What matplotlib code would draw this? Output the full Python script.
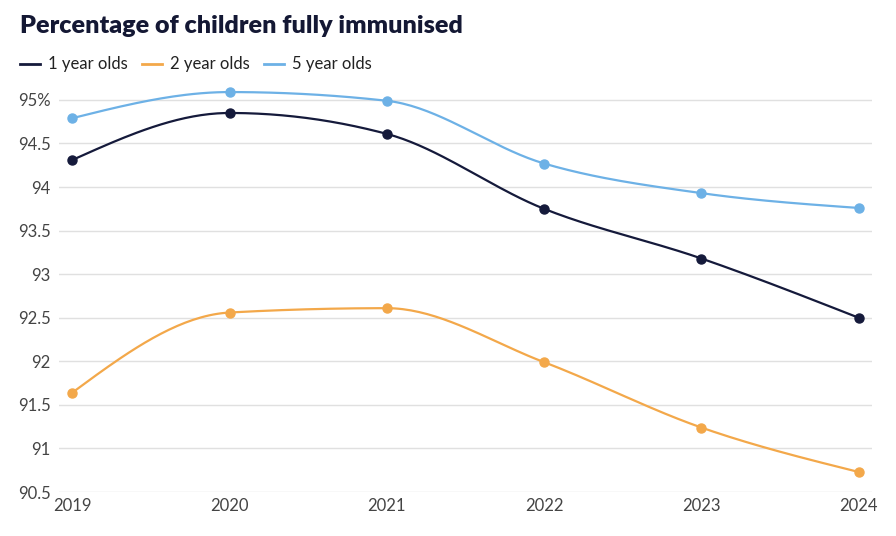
#!/usr/bin/env python3

import numpy as np
import matplotlib.pyplot as plt


YEARS = [2019, 2020, 2021, 2022, 2023, 2024]

ONE_YEAR = [94.31, 94.85, 94.61, 93.75, 93.18, 92.50]
TWO_YEAR = [91.64, 92.56, 92.61, 91.99, 91.24, 90.73]
FIVE_YEAR = [94.79, 95.09, 94.99, 94.27, 93.93, 93.76]

SERIES = [
    ("1 year olds", ONE_YEAR, "#151a3b"),
    ("2 year olds", TWO_YEAR, "#f3a84a"),
    ("5 year olds", FIVE_YEAR, "#6db1e6"),
]

Y_TICKS = [90.5, 91, 91.5, 92, 92.5, 93, 93.5, 94, 94.5, 95]
Y_LABELS = ["90.5", "91", "91.5", "92", "92.5", "93", "93.5", "94", "94.5", "95%"]

TITLE = "Percentage of children fully immunised"


def monotone_curve(xs, ys, steps=40):
    # monotone cubic (same rule as d3.curveMonotoneX), drawn as Bezier pieces
    x = np.asarray(xs, dtype=float)
    y = np.asarray(ys, dtype=float)
    n = len(x)
    h = np.diff(x)
    s = np.diff(y) / h
    t = np.zeros(n)
    for i in range(1, n - 1):
        p = (s[i - 1] * h[i] + s[i] * h[i - 1]) / (h[i - 1] + h[i])
        t[i] = (np.sign(s[i - 1]) + np.sign(s[i])) * min(abs(s[i - 1]), abs(s[i]), 0.5 * abs(p))
    t[0] = (3 * s[0] - t[1]) / 2
    t[-1] = (3 * s[-1] - t[-2]) / 2

    out_x, out_y = [], []
    u = np.linspace(0, 1, steps)
    for i in range(n - 1):
        dx = h[i] / 3
        p0 = (x[i], y[i])
        p1 = (x[i] + dx, y[i] + dx * t[i])
        p2 = (x[i + 1] - dx, y[i + 1] - dx * t[i + 1])
        p3 = (x[i + 1], y[i + 1])
        bx = (1 - u) ** 3 * p0[0] + 3 * (1 - u) ** 2 * u * p1[0] + 3 * (1 - u) * u ** 2 * p2[0] + u ** 3 * p3[0]
        by = (1 - u) ** 3 * p0[1] + 3 * (1 - u) ** 2 * u * p1[1] + 3 * (1 - u) * u ** 2 * p2[1] + u ** 3 * p3[1]
        out_x.extend(bx)
        out_y.extend(by)
    return out_x, out_y


def main():
    plt.rcParams["font.family"] = ["Lato", "DejaVu Sans"]

    W, H = 896, 536
    fig = plt.figure(figsize=(W / 100, H / 100), dpi=100)
    ax = fig.add_axes([0.066, 0.082, 0.907, 0.756])

    for label, values, color in SERIES:
        cx, cy = monotone_curve(YEARS, values)
        ax.plot(cx, cy, color=color, linewidth=1.6, label=label, clip_on=False, zorder=3)
        ax.plot(YEARS, values, "o", color=color, markersize=6.5, clip_on=False, zorder=4)

    ax.set_xlim(2018.917, 2024.083)
    ax.set_ylim(90.5, 95.15)
    ax.set_xticks(YEARS)
    ax.set_xticklabels([str(y) for y in YEARS])
    ax.set_yticks(Y_TICKS)
    ax.set_yticklabels(Y_LABELS)

    ax.grid(axis="y", color="#e0e0e0", linewidth=1)
    ax.set_axisbelow(True)
    for sp in ax.spines.values():
        sp.set_visible(False)
    ax.tick_params(axis="both", length=0, labelsize=12, colors="#444444")
    ax.tick_params(axis="y", pad=6)
    ax.tick_params(axis="x", pad=4)

    fig.text(20 / W, 1 - 26 / H, TITLE, fontsize=18.1, fontweight="heavy", color="#141834",
             ha="left", va="center")

    # legend drawn by hand so the swatches line up with the reference
    legend_y = 1 - 64 / H
    for i, (label, _, color) in enumerate(SERIES):
        x0 = (20 + 122 * i) / W
        fig.add_artist(plt.Line2D([x0, x0 + 20 / W], [legend_y, legend_y],
                                  color=color, linewidth=2, transform=fig.transFigure))
        fig.text(x0 + 28 / W, legend_y, label, fontsize=12, color="#222222",
                 ha="left", va="center")

    fig.savefig("out.png", dpi=100)
    plt.close(fig)


if __name__ == "__main__":
    main()
